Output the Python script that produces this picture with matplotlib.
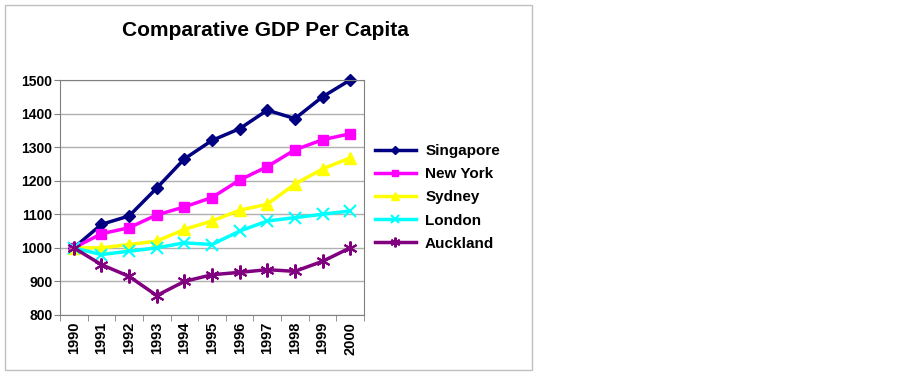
import matplotlib
matplotlib.use("Agg")
import matplotlib.pyplot as plt
from matplotlib.patches import Rectangle

years = ["1990", "1991", "1992", "1993", "1994", "1995", "1996", "1997", "1998", "1999", "2000"]
singapore = [1000, 1070, 1095, 1178, 1265, 1320, 1355, 1410, 1385, 1450, 1500]
new_york = [1000, 1042, 1060, 1098, 1122, 1150, 1202, 1242, 1292, 1322, 1340]
sydney = [1000, 1000, 1010, 1020, 1055, 1080, 1112, 1130, 1190, 1235, 1268]
london = [1000, 980, 990, 1000, 1015, 1010, 1050, 1080, 1090, 1100, 1110]
auckland = [1000, 950, 915, 858, 900, 920, 927, 935, 930, 960, 1000]
y_ticks = [800, 900, 1000, 1100, 1200, 1300, 1400, 1500]

plt.rcParams['font.family'] = ['Liberation Sans', 'DejaVu Sans']

fig = plt.figure(figsize=(8.99, 3.76), dpi=100)
fig.patches.append(Rectangle((5/899, 1-370/376), 527/899, 365/376, transform=fig.transFigure,
                             fill=False, edgecolor='#c0c0c0', linewidth=1))
ax = fig.add_axes([60/899, 1-315/376, 304/899, 235/376])

x = list(range(len(years)))
series = [
    ("Singapore", singapore, "#000080", "D", 6),
    ("New York", new_york, "#FF00FF", "s", 7),
    ("Sydney", sydney, "#FFFF00", "^", 8),
    ("London", london, "#00FFFF", "x", 8),
    ("Auckland", auckland, "#800080", (6, 2, 0), 10),
]
for name, vals, col, mk, ms in series:
    ax.plot(x, vals, color=col, linewidth=2.5, marker=mk, markersize=ms,
            markeredgewidth=1.5 if mk in ("x", (6, 2, 0)) else 1, markeredgecolor=col,
            markerfacecolor=col, label=name, clip_on=False)

ax.set_xlim(-0.5, len(years) - 0.5)
ax.set_ylim(800, 1500)
ax.set_yticks(y_ticks)
ax.set_yticklabels([str(v) for v in y_ticks], fontsize=10, fontweight='bold')
ax.set_xticks(x)
ax.set_xticklabels(years, rotation=90, fontsize=10.5, fontweight='bold')
ax.tick_params(axis='x', length=0, pad=5)
ax.set_xticks([i - 0.5 for i in range(len(years) + 1)], minor=True)
ax.tick_params(axis='x', which='minor', length=4, color='#808080', direction='out')
ax.tick_params(axis='y', length=4, color='#808080', direction='out', pad=1.5)
ax.yaxis.grid(True, color='#b0b0b0', linewidth=1)
ax.set_axisbelow(True)
for s in ax.spines.values():
    s.set_color('#808080')

fig.text(265/899, 1-30/376, "Comparative GDP Per Capita", ha='center', va='center',
         fontsize=15, fontweight='bold')

leg = ax.legend(loc='center left', bbox_to_anchor=(1.0, 0.5), frameon=False,
                prop={'size': 11, 'weight': 'bold'}, handlelength=2.7, handletextpad=0.6,
                labelspacing=0.6, markerscale=0.7, borderpad=0.2)

fig.savefig("out.png", dpi=100)
